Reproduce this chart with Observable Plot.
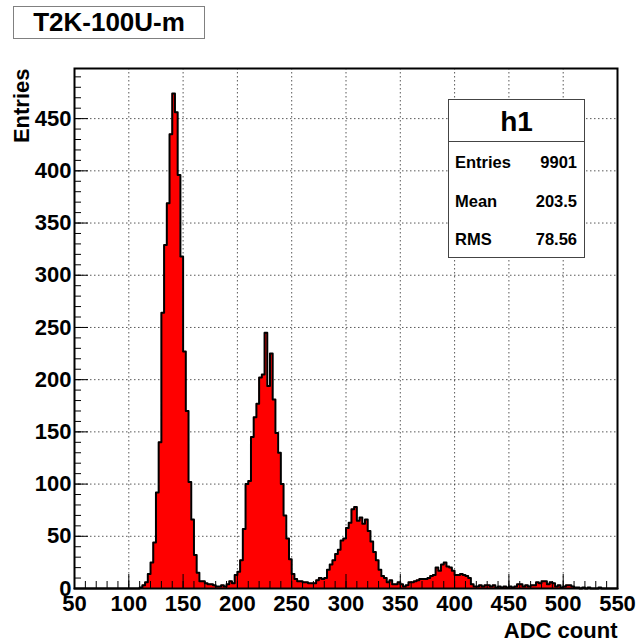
<!DOCTYPE html>
<html>
<head>
<meta charset="utf-8">
<script src="https://cdn.jsdelivr.net/npm/d3@7"></script>
<script src="https://cdn.jsdelivr.net/npm/@observablehq/plot@0.6"></script>
<style>
  html, body { margin: 0; padding: 0; background: #fff; }
  #wrap { position: relative; width: 638px; height: 644px; font-family: "Liberation Sans", Arial, Helvetica, sans-serif; font-weight: bold; color: #000; }
  #wrap svg { position: absolute; left: 0; top: 0; }
  .titlebox { position: absolute; left: 13px; top: 6px; width: 190px; height: 31px; border: 1px solid #808080; background: #fff; font-size: 26px; line-height: 31px; text-align: center; }
  .stats { position: absolute; left: 448px; top: 99px; width: 135px; height: 157px; border: 1px solid #444; background: #fff; }
  .stats .head { height: 41px; border-bottom: 1px solid #444; font-size: 28px; line-height: 43px; text-align: center; }
  .stats .row { position: relative; height: 38.5px; font-size: 16.5px; line-height: 40px; }
  .stats .row .k { position: absolute; left: 6px; }
  .stats .row .v { position: absolute; right: 7px; }
</style>
</head>
<body>
<div id="wrap"></div>
<script>
// ---- data ----
const histTitle = "T2K-100U-m";
const xLabel = "ADC count";
const yLabel = "Entries";
const xMin = 50, xMax = 550, binWidth = 2.5;
const yMax = 498;
// bin contents, 200 bins of width 2.5 from 50 to 550
const counts = [
  0,0,0,0,0,0,0,0,0,0,
  0,0,0,0,0,0,0,0,0,0,
  0,0,0,0,1,3,6,14,25,44,
  92,140,264,329,369,435,474,456,396,318,
  227,170,102,66,32,15,7,7,5,4,
  4,3,2,2,3,2,4,7,5,13,
  16,27,57,100,103,145,164,177,202,205,
  245,194,225,181,149,130,100,70,48,28,
  14,9,7,7,6,6,5,5,5,8,
  10,9,10,18,23,27,33,37,46,48,
  58,63,76,78,65,68,62,66,55,45,
  35,27,18,12,10,6,8,4,4,6,
  4,2,3,6,6,7,8,9,9,9,
  10,12,13,20,17,23,25,21,20,17,
  13,13,14,13,12,10,4,2,2,3,
  2,3,3,2,3,1,2,1,2,1,
  2,1,2,4,4,2,3,2,3,3,
  6,5,7,7,4,6,5,2,3,1,
  2,3,3,2,1,1,0,1,0,1,
  0,0,0,1,0,0,0,0,0,0
];
const xTickValues = [50,100,150,200,250,300,350,400,450,500,550];
const yTickValues = [0,50,100,150,200,250,300,350,400,450];
const xGridValues = [100,150,200,250,300,350,400,450,500];
const yGridValues = [50,100,150,200,250,300,350,400,450];
const xMinorTicks = d3.range(50, 551, 10);
const yMinorTicks = d3.range(0, 491, 10);
const statsName = "h1";
const statsLabels = ["Entries", "Mean", "RMS"];
const statsValues = ["9901", "203.5", "78.56"];

// ---- build ----
const steps = counts.map((n, i) => ({x: xMin + i * binWidth, n}));
steps.push({x: xMax, n: counts[counts.length - 1]});

const W = 638, H = 644, mL = 74, mR = 21, mT = 68, mB = 56;
const plotW = W - mL - mR, plotH = H - mT - mB;
const font = "'Liberation Sans', Arial, Helvetica, sans-serif";

const chart = Plot.plot({
  width: W, height: H,
  marginLeft: mL, marginRight: mR, marginTop: mT, marginBottom: mB,
  x: {domain: [xMin, xMax]},
  y: {domain: [0, yMax]},
  style: {fontFamily: font, fontWeight: "bold", fontSize: "22px", color: "black", background: "white", overflow: "visible"},
  marks: [
    Plot.gridX(xGridValues, {stroke: "#222", strokeOpacity: 0.75, strokeWidth: 1, strokeDasharray: "1.5,2.5"}),
    Plot.gridY(yGridValues, {stroke: "#222", strokeOpacity: 0.75, strokeWidth: 1, strokeDasharray: "1.5,2.5"}),
    Plot.areaY(steps, {x: "x", y: "n", curve: "step-after", fill: "#ff0000"}),
    Plot.lineY(steps, {x: "x", y: "n", curve: "step-after", stroke: "black", strokeWidth: 2}),
    // inner ticks (ROOT style)
    Plot.ruleX(xMinorTicks, {x: d => d, stroke: "black", strokeWidth: 1, insetTop: plotH - 7}),
    Plot.ruleX(xTickValues, {x: d => d, stroke: "black", strokeWidth: 1, insetTop: plotH - 14}),
    Plot.ruleY(yMinorTicks, {y: d => d, stroke: "black", strokeWidth: 1, insetRight: plotW - 7}),
    Plot.ruleY(yTickValues, {y: d => d, stroke: "black", strokeWidth: 1, insetRight: plotW - 14}),
    Plot.axisX(xTickValues, {tickSize: 0, tickPadding: 7, label: null, fontSize: 22, fontWeight: "bold", tickFormat: d => String(d)}),
    Plot.axisY(yTickValues, {tickSize: 0, tickPadding: 3, label: null, fontSize: 22, fontWeight: "bold", tickFormat: d => String(d)}),
    Plot.frame({stroke: "black", strokeWidth: 2}),
    Plot.text([xLabel], {text: d => d, frameAnchor: "bottom-right", textAnchor: "end", lineAnchor: "bottom", dy: 49, fontSize: 22, fontWeight: "bold"}),
    Plot.text([yLabel], {text: d => d, frameAnchor: "top-left", textAnchor: "end", lineAnchor: "bottom", rotate: -90, dx: -46, fontSize: 22, fontWeight: "bold"})
  ]
});

const wrap = document.getElementById("wrap");
wrap.appendChild(chart);

const tb = document.createElement("div");
tb.className = "titlebox";
tb.textContent = histTitle;
wrap.appendChild(tb);

const st = document.createElement("div");
st.className = "stats";
const head = document.createElement("div");
head.className = "head";
head.textContent = statsName;
st.appendChild(head);
statsLabels.forEach((k, i) => {
  const r = document.createElement("div");
  r.className = "row";
  const a = document.createElement("span"); a.className = "k"; a.textContent = k;
  const b = document.createElement("span"); b.className = "v"; b.textContent = statsValues[i];
  r.appendChild(a); r.appendChild(b);
  st.appendChild(r);
});
wrap.appendChild(st);
</script>
</body>
</html>
